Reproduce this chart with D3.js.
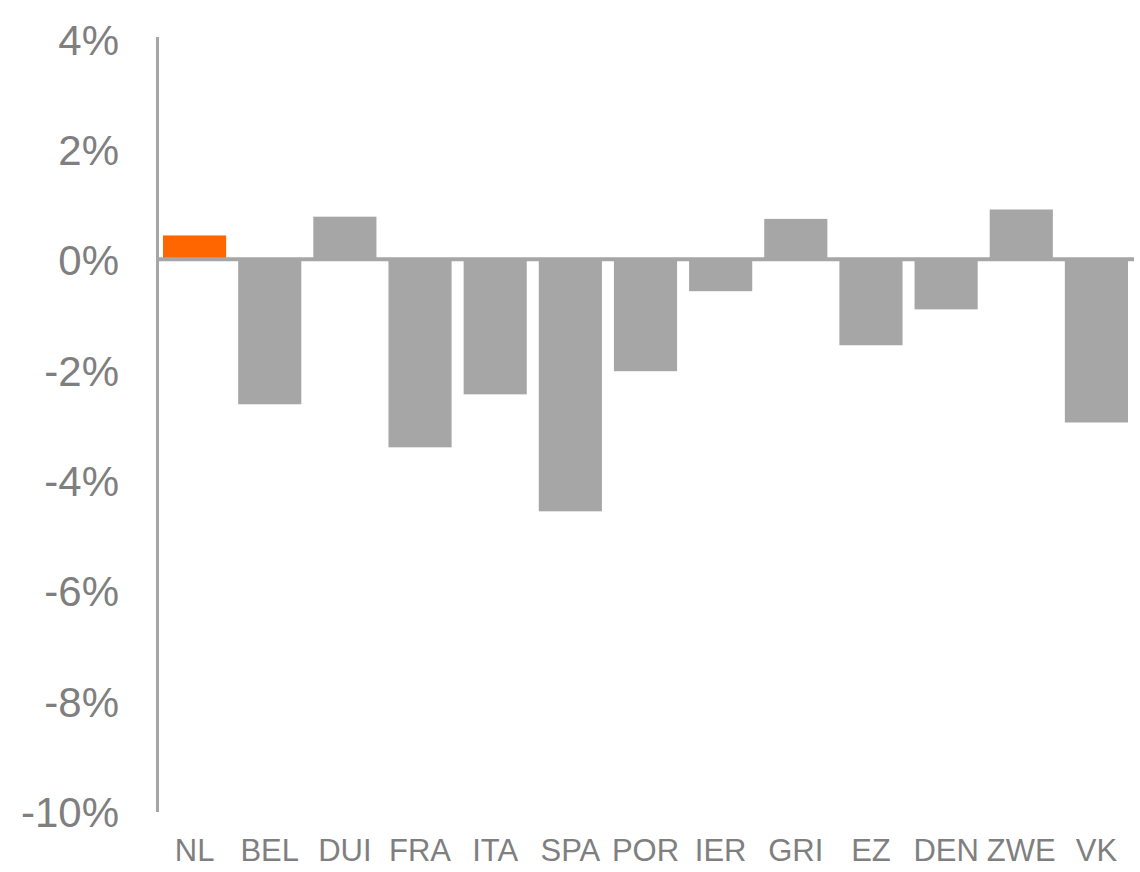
<!DOCTYPE html>
<html>
<head>
<meta charset="utf-8">
<script src="https://cdn.jsdelivr.net/npm/d3@7"></script>
<style>
  body { margin: 0; background: #ffffff; }
  svg text { font-family: "Liberation Sans", Arial, sans-serif; }
</style>
</head>
<body>
<div id="chart"></div>
<script>
const bar_color = '#a6a6a6'
const highlight_color = '#ff6600'
const text_color = '#7f7f7f'

const countries = ["NL", "BEL", "DUI", "FRA", "ITA", "SPA", "POR", "IER", "GRI", "EZ", "DEN", "ZWE", "VK"];
const values = [0.44, -2.62, 0.78, -3.4, -2.44, -4.56, -2.02, -0.57, 0.74, -1.55, -0.9, 0.91, -2.95];
const y_ticks = [4, 2, 0, -2, -4, -6, -8, -10];

const WIDTH = 1140,
    HEIGHT = 872;

const svg = d3.select("#chart")
    .append("svg")
    .attr("width", WIDTH)
    .attr("height", HEIGHT);

const x = d3.scaleBand()
    .domain(countries)
    .range([157, 1134])
    .paddingInner(0.16)
    .paddingOuter(0.08);

const y = d3.scaleLinear()
    .domain([-10, 4])
    .range([811.5, 39]);

// bars
svg.selectAll(".bar")
    .data(countries)
    .enter()
    .append("rect")
    .attr("class", "bar")
    .attr("x", d => x(d))
    .attr("width", x.bandwidth())
    .attr("y", (d, i) => y(Math.max(0, values[i])))
    .attr("height", (d, i) => Math.abs(y(values[i]) - y(0)))
    .style("fill", (d, i) => i === 0 ? highlight_color : bar_color);

// zero line
svg.append("line")
    .attr("x1", 157)
    .attr("x2", 1134)
    .attr("y1", y(0) - 0.5)
    .attr("y2", y(0) - 0.5)
    .style("stroke", bar_color)
    .style("stroke-width", 4);

// vertical axis line
svg.append("line")
    .attr("x1", 157.5)
    .attr("x2", 157.5)
    .attr("y1", 37)
    .attr("y2", 812)
    .style("stroke", bar_color)
    .style("stroke-width", 3);

// y tick labels
const yAxis = svg.append("g")
    .attr("transform", "translate(119,0)")
    .call(d3.axisLeft(y).tickValues(y_ticks).tickSize(0).tickPadding(0).tickFormat(d => d + "%"));
yAxis.select(".domain").remove();
yAxis.selectAll("text")
    .attr("dy", "0.36em")
    .attr("font-size", "42px")
    .style("font-family", "'Liberation Sans', Arial, sans-serif")
    .style("fill", text_color);

// x labels
const xAxis = svg.append("g")
    .attr("transform", "translate(0,839)")
    .call(d3.axisBottom(x).tickSize(0).tickPadding(0));
xAxis.select(".domain").remove();
xAxis.selectAll("text")
    .attr("dy", "0.71em")
    .attr("font-size", "31px")
    .style("font-family", "'Liberation Sans', Arial, sans-serif")
    .style("fill", text_color);
</script>
</body>
</html>
